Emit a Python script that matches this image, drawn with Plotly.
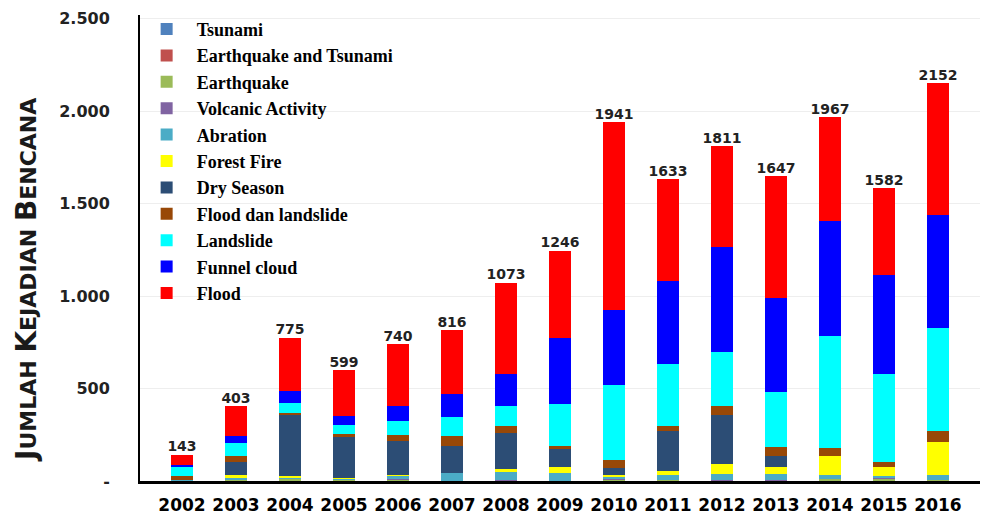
import plotly.graph_objects as go

years = ["2002", "2003", "2004", "2005", "2006", "2007", "2008", "2009",
         "2010", "2011", "2012", "2013", "2014", "2015", "2016"]

tsunami         = [0, 1, 1, 1, 1, 0, 0, 0, 0, 0, 0, 0, 0, 0, 0]
eq_tsunami      = [0, 1, 0, 0, 1, 0, 0, 0, 0, 0, 0, 0, 0, 0, 0]
earthquake      = [3, 6, 10, 8, 8, 2, 4, 2, 8, 5, 5, 0, 11, 9, 3]
volcanic        = [0, 2, 2, 1, 3, 0, 4, 0, 2, 0, 3, 5, 0, 11, 0]
abration        = [3, 5, 5, 5, 18, 39, 38, 39, 12, 27, 30, 35, 20, 9, 29]
forest_fire     = [2, 18, 9, 3, 2, 0, 18, 36, 11, 22, 55, 34, 103, 47, 179]
dry_season      = [0, 68, 328, 218, 184, 151, 195, 96, 38, 218, 263, 61, 0, 0, 0]
flood_landslide = [20, 32, 13, 16, 31, 51, 39, 14, 43, 25, 52, 48, 44, 29, 61]
landslide       = [52, 75, 54, 50, 74, 104, 110, 227, 404, 335, 292, 298, 605, 476, 557]
funnel_cloud    = [8, 33, 67, 47, 81, 126, 171, 357, 405, 449, 568, 506, 625, 533, 609]
flood           = [55, 162, 286, 250, 337, 343, 494, 475, 1018, 552, 543, 660, 559, 468, 714]
totals          = [143, 403, 775, 599, 740, 816, 1073, 1246, 1941, 1633, 1811, 1647, 1967, 1582, 2152]

y_tickvals = [0, 500, 1000, 1500, 2000, 2500]
y_ticktext = ["-", "500", "1.000", "1.500", "2.000", "2.500"]

series = [
    ("Tsunami", tsunami, "#4F81BD"),
    ("Earthquake and Tsunami", eq_tsunami, "#C0504D"),
    ("Earthquake", earthquake, "#9BBB59"),
    ("Volcanic Activity", volcanic, "#8064A2"),
    ("Abration", abration, "#4BACC6"),
    ("Forest Fire", forest_fire, "#FFFF00"),
    ("Dry Season", dry_season, "#2C4D75"),
    ("Flood dan landslide", flood_landslide, "#984807"),
    ("Landslide", landslide, "#00FFFF"),
    ("Funnel cloud", funnel_cloud, "#0000FF"),
    ("Flood", flood, "#FF0000"),
]

fig = go.Figure()
for name, vals, color in series:
    fig.add_trace(go.Bar(
        x=years, y=vals, name=name,
        marker=dict(color=color, line=dict(width=0)),
    ))

# total labels above each stacked bar
fig.add_trace(go.Scatter(
    x=years, y=totals, mode="text",
    text=[str(t) for t in totals], textposition="top center",
    textfont=dict(family="DejaVu Sans", size=14, color="#222222", weight="bold"),
    showlegend=False, hoverinfo="skip",
))

big = 28
small = 22
title_html = (
    f"<span style='font-size:{big}px'>J</span><span style='font-size:{small}px'>UMLAH </span>"
    f"<span style='font-size:{big}px'>K</span><span style='font-size:{small}px'>EJADIAN </span>"
    f"<span style='font-size:{big}px'>B</span><span style='font-size:{small}px'>ENCANA</span>"
)
fig.add_annotation(
    xref="paper", yref="paper", x=-0.136, y=0.431,
    text="<b>" + title_html + "</b>", textangle=-90, showarrow=False,
    xanchor="center", yanchor="middle",
    font=dict(family="DejaVu Sans", size=small, color="#1a1a1a"),
)

fig.update_layout(
    width=983, height=520,
    margin=dict(l=140, r=3, t=15, b=39),
    barmode="stack",
    bargap=0.6,
    plot_bgcolor="white",
    paper_bgcolor="white",
    showlegend=True,
    legend=dict(
        traceorder="normal",
        x=-0.004, y=1.009, xanchor="left", yanchor="top",
        maxheight=1,
        bgcolor="rgba(0,0,0,0)",
        itemwidth=50,
        font=dict(family="Liberation Serif", size=18, color="black", weight="bold"),
    ),
    xaxis=dict(
        type="category",
        showline=True, linecolor="black", linewidth=3,
        showgrid=False, ticks="",
        ticklabelstandoff=7,
        tickfont=dict(family="DejaVu Sans", size=17, color="black", weight="bold"),
    ),
    yaxis=dict(
        range=[0, 2520],
        tickvals=y_tickvals, ticktext=y_ticktext,
        showline=True, linecolor="black", linewidth=2,
        showgrid=True, gridcolor="#EEEEEE", gridwidth=1,
        zeroline=False, ticks="",
        ticklabelstandoff=25,
        tickfont=dict(family="DejaVu Sans", size=16, color="#222222", weight="bold"),
    ),
)

fig.write_html("out.html")
